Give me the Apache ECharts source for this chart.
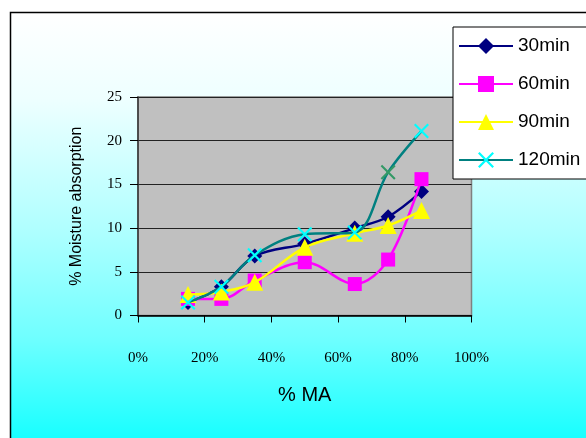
<!DOCTYPE html>
<html>
<head>
<meta charset="utf-8">
<script src="https://cdn.jsdelivr.net/npm/echarts@6/dist/echarts.min.js"></script>
<style>
  html, body { margin: 0; padding: 0; background: #ffffff; }
  #chart { width: 586px; height: 438px; }
</style>
</head>
<body>
<div id="chart"></div>
<script>
// % MA content on the x axis
const maPercent = [15, 25, 35, 50, 65, 75, 85];

// % moisture absorption after each soaking time
const seriesNames = ['30min', '60min', '90min', '120min'];
const absorb30 = [1.5, 3.3, 6.8, 8.2, 10.0, 11.3, 14.2];
const absorb60 = [1.9, 1.9, 4.0, 6.1, 3.6, 6.4, 15.6];
const absorb90 = [2.4, 2.7, 3.8, 7.8, 9.4, 10.3, 12.0];
const absorb120 = [1.5, 3.3, 6.9, 9.3, 9.5, 16.4, 21.1];

const yTicks = [0, 5, 10, 15, 20, 25];
const xTicks = [0, 20, 40, 60, 80, 100];

const serif = '"Liberation Serif", "Times New Roman", serif';
const sans = '"Liberation Sans", Arial, sans-serif';

// filled "x" marker
const crossPath = 'path://M0,1L1,0L5,4L9,0L10,1L6,5L10,9L9,10L5,6L1,10L0,9L4,5Z';

function pairs(ys) {
  return ys.map((y, i) => [maPercent[i], y]);
}

const chart = echarts.init(document.getElementById('chart'), null, { renderer: 'canvas' });

const lineSpec = [
  { data: absorb30, color: '#000080', symbol: 'diamond', size: 15 },
  { data: absorb60, color: '#FF00FF', symbol: 'rect', size: 14 },
  { data: absorb90, color: '#FFFF00', symbol: 'triangle', size: 17 },
  { data: absorb120, color: '#008080', symbol: crossPath, size: 15, markColor: '#00FFFF' }
];

const series = lineSpec.map((s, k) => {
  let data = pairs(s.data);
  if (k === 3) {
    // the 75% point of the 120min run is marked in green
    data = data.map((p, i) => i === 5 ? { value: p, itemStyle: { color: '#339966' } } : p);
  }
  return {
    name: seriesNames[k],
    type: 'line',
    smooth: 0.35,
    data: data,
    symbol: s.symbol,
    symbolSize: s.size,
    lineStyle: { color: s.color, width: 2.5 },
    itemStyle: { color: s.markColor || s.color },
    z: 3 + k
  };
});

chart.setOption({
  animation: false,
  backgroundColor: '#ffffff',
  textStyle: { fontFamily: sans },
  graphic: [{
    type: 'rect',
    z: -10,
    shape: { x: 10.5, y: 12.5, width: 620, height: 432 },
    style: {
      fill: new echarts.graphic.LinearGradient(0, 0, 0, 1, [
        { offset: 0, color: '#FFFFFF' },
        { offset: 0.2, color: '#EEFFFF' },
        { offset: 0.5, color: '#B0FFFF' },
        { offset: 0.75, color: '#70FFFF' },
        { offset: 1, color: '#12FFFF' }
      ]),
      stroke: '#000000',
      lineWidth: 1.5
    }
  }],
  grid: {
    left: 138,
    top: 97,
    right: 114.5,
    bottom: 122.5,
    show: true,
    backgroundColor: '#C0C0C0',
    borderColor: '#808080',
    borderWidth: 1.5
  },
  legend: {
    left: 453,
    top: 27,
    orient: 'vertical',
    backgroundColor: '#FFFFFF',
    borderColor: '#000000',
    borderWidth: 1,
    padding: [9, 12, 9, 5],
    itemWidth: 54,
    itemHeight: 20,
    itemGap: 18,
    textStyle: { fontFamily: sans, fontSize: 19, lineHeight: 20, color: '#000000' },
    data: seriesNames
  },
  xAxis: {
    type: 'value',
    min: xTicks[0],
    max: xTicks[xTicks.length - 1],
    interval: xTicks[1] - xTicks[0],
    name: '% MA',
    nameLocation: 'middle',
    nameGap: 70,
    nameTextStyle: { fontFamily: sans, fontSize: 20, color: '#000000' },
    axisLine: { show: true, onZero: false, lineStyle: { color: '#000000', width: 1.5 } },
    axisTick: { show: true, length: 7, lineStyle: { color: '#000000' } },
    axisLabel: {
      margin: 35,
      fontFamily: serif,
      fontSize: 15,
      color: '#000000',
      formatter: v => v + '%'
    },
    splitLine: { show: false }
  },
  yAxis: {
    type: 'value',
    min: yTicks[0],
    max: yTicks[yTicks.length - 1],
    interval: yTicks[1] - yTicks[0],
    name: '% Moisture absorption',
    nameLocation: 'middle',
    nameGap: 53,
    nameTextStyle: { fontFamily: sans, fontSize: 16, color: '#000000' },
    axisLine: { show: true, lineStyle: { color: '#333333', width: 1.5 } },
    axisTick: { show: true, length: 8, lineStyle: { color: '#000000' } },
    axisLabel: { margin: 16, fontFamily: serif, fontSize: 15, color: '#000000' },
    splitLine: { show: true, lineStyle: { color: '#222222', width: 1 } }
  },
  series: series
});
</script>
</body>
</html>
